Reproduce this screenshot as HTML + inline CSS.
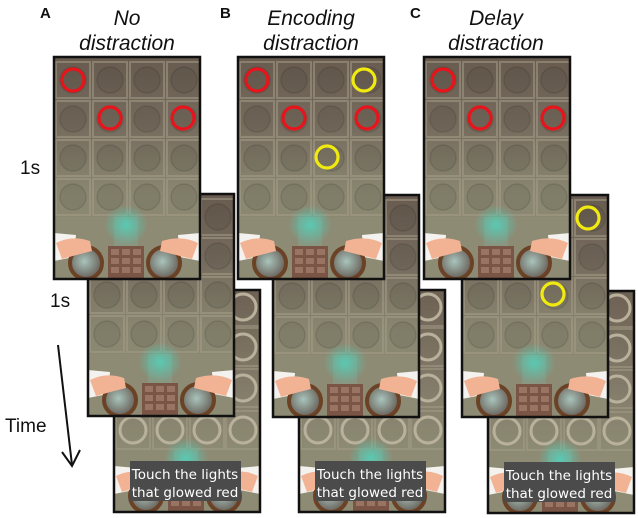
<!DOCTYPE html>
<html><head><meta charset="utf-8"><style>
html,body{margin:0;padding:0;background:#fff;width:638px;height:518px;overflow:hidden}
svg{display:block}
.t{font-family:"Liberation Sans",sans-serif;font-style:italic;font-size:21px;fill:#111;text-anchor:middle}
.L{font-family:"Liberation Sans",sans-serif;font-weight:bold;font-size:15px;fill:#111}
.s{font-family:"Liberation Sans",sans-serif;font-size:19px;fill:#111}
.lb{font-family:"DejaVu Sans","Liberation Sans",sans-serif;font-size:13.5px;fill:#fff;text-anchor:middle}
</style></head><body>
<svg width="638" height="518" viewBox="0 0 638 518" xmlns="http://www.w3.org/2000/svg">
<defs>
<linearGradient id="bg1" x1="0" y1="0" x2="0" y2="1">
<stop offset="0" stop-color="#685b4f"/><stop offset="0.3" stop-color="#756b5d"/><stop offset="0.62" stop-color="#8a8771"/><stop offset="1" stop-color="#8e8c75"/></linearGradient>
<linearGradient id="bg3" x1="0" y1="0" x2="0" y2="1">
<stop offset="0" stop-color="#6d6153"/><stop offset="0.45" stop-color="#847c6a"/><stop offset="0.7" stop-color="#8c8a73"/><stop offset="1" stop-color="#8e8c75"/></linearGradient>
<radialGradient id="glow"><stop offset="0" stop-color="#3fe0c8" stop-opacity="0.7"/><stop offset="1" stop-color="#3fe0c8" stop-opacity="0"/></radialGradient>
<radialGradient id="ball" cx="0.45" cy="0.45"><stop offset="0" stop-color="#a8c4bc"/><stop offset="1" stop-color="#6e6a62"/></radialGradient>
<clipPath id="fc"><rect x="0" y="0" width="146" height="222"/></clipPath>
<g id="cell"><rect x="-17" y="-18" width="34" height="36" fill="none" stroke="#a59d88" stroke-opacity="0.55" stroke-width="2"/><circle r="13" fill="#000" fill-opacity="0.07" stroke="#000" stroke-opacity="0.1" stroke-width="1.5"/></g>
<g id="ring"><rect x="-17" y="-19" width="34" height="38" fill="none" stroke="#a59d88" stroke-opacity="0.5" stroke-width="2"/><circle r="13" fill="none" stroke="#b9b19c" stroke-width="3"/></g>
<g id="bottom">
<rect x="0" y="160" width="146" height="62" fill="#8d8b74"/>
<ellipse cx="72" cy="168" rx="22" ry="20" fill="url(#glow)"/>
<rect x="60" y="160" width="24" height="62" fill="#6fd8c8" opacity="0.15"/>
<path d="M0 176 L22 178 L20 200 L0 204Z" fill="#f4f2ee"/>
<path d="M124 178 L146 176 L146 204 L126 200Z" fill="#f4f2ee"/>
<circle cx="32" cy="206" r="16" fill="url(#ball)" stroke="#6b4226" stroke-width="4"/>
<circle cx="110" cy="206" r="16" fill="url(#ball)" stroke="#6b4226" stroke-width="4"/>
<path d="M2 186 Q18 178 36 184 L38 194 Q22 198 8 202Z" fill="#f2b394"/>
<path d="M144 186 Q128 178 108 184 L106 194 Q122 198 138 202Z" fill="#f2b394"/>
<rect x="54" y="189" width="36" height="33" fill="#7a5444"/>
<g fill="#9a7462"><rect x="57" y="192" width="8" height="6"/><rect x="68" y="192" width="8" height="6"/><rect x="79" y="192" width="8" height="6"/><rect x="57" y="201" width="8" height="6"/><rect x="68" y="201" width="8" height="6"/><rect x="79" y="201" width="8" height="6"/><rect x="57" y="210" width="8" height="6"/><rect x="68" y="210" width="8" height="6"/><rect x="79" y="210" width="8" height="6"/></g>
</g>
<g id="F1">
<rect width="146" height="222" fill="url(#bg1)"/>
<g clip-path="url(#fc)">
<use href="#cell" x="19" y="23"/><use href="#cell" x="56" y="23"/><use href="#cell" x="93" y="23"/><use href="#cell" x="130" y="23"/>
<use href="#cell" x="19" y="62"/><use href="#cell" x="56" y="62"/><use href="#cell" x="93" y="62"/><use href="#cell" x="130" y="62"/>
<use href="#cell" x="19" y="101"/><use href="#cell" x="56" y="101"/><use href="#cell" x="93" y="101"/><use href="#cell" x="130" y="101"/>
<use href="#cell" x="19" y="140"/><use href="#cell" x="56" y="140"/><use href="#cell" x="93" y="140"/><use href="#cell" x="130" y="140"/>
<use href="#bottom"/>
</g>
<rect x="0" y="0" width="146" height="222" fill="none" stroke="#111" stroke-width="2.5"/>
</g>
<g id="F3">
<rect width="146" height="222" fill="url(#bg3)"/>
<g clip-path="url(#fc)">
<use href="#ring" x="19" y="17"/><use href="#ring" x="56" y="17"/><use href="#ring" x="93" y="17"/><use href="#ring" x="129" y="17"/>
<use href="#ring" x="19" y="57"/><use href="#ring" x="56" y="57"/><use href="#ring" x="93" y="57"/><use href="#ring" x="129" y="57"/>
<use href="#ring" x="19" y="98"/><use href="#ring" x="56" y="98"/><use href="#ring" x="93" y="98"/><use href="#ring" x="129" y="98"/>
<use href="#ring" x="19" y="140"/><use href="#ring" x="56" y="140"/><use href="#ring" x="93" y="140"/><use href="#ring" x="129" y="140"/>
<use href="#bottom"/>
<rect x="16" y="171" width="111" height="40" fill="#4b4b4b"/>
</g>
<rect x="0" y="0" width="146" height="222" fill="none" stroke="#111" stroke-width="2.5"/>
</g>
</defs>

<use href="#F3" x="114" y="290"/>
<text class="lb" x="185" y="479">Touch the lights</text><text class="lb" x="185" y="497">that glowed red</text>
<use href="#F1" x="88" y="194"/>
<use href="#F1" x="54" y="57"/>
<g fill="none" stroke="#e8141c" stroke-width="3.2">
<circle cx="73" cy="80" r="11"/><circle cx="110" cy="118" r="11"/><circle cx="183" cy="118" r="11"/></g>

<use href="#F3" x="299" y="290"/>
<text class="lb" x="370" y="479">Touch the lights</text><text class="lb" x="370" y="497">that glowed red</text>
<use href="#F1" x="273" y="195"/>
<use href="#F1" x="238" y="57"/>
<g fill="none" stroke="#e8141c" stroke-width="3.2">
<circle cx="257" cy="80" r="11"/><circle cx="294" cy="118" r="11"/><circle cx="367" cy="118" r="11"/></g>
<g fill="none" stroke="#f0ea10" stroke-width="3.2">
<circle cx="364" cy="80" r="11"/><circle cx="327" cy="157" r="11"/></g>

<use href="#F3" x="488" y="291"/>
<text class="lb" x="559" y="480">Touch the lights</text><text class="lb" x="559" y="498">that glowed red</text>
<use href="#F1" x="462" y="195"/>
<use href="#F1" x="424" y="57"/>
<g fill="none" stroke="#e8141c" stroke-width="3.2">
<circle cx="443" cy="80" r="11"/><circle cx="480" cy="118" r="11"/><circle cx="553" cy="118" r="11"/></g>
<g fill="none" stroke="#f0ea10" stroke-width="3.2">
<circle cx="588" cy="218" r="11"/><circle cx="553" cy="294" r="11"/></g>

<text class="L" x="40" y="18">A</text>
<text class="L" x="220" y="18">B</text>
<text class="L" x="410" y="18">C</text>
<text class="t" x="127" y="25">No</text><text class="t" x="127" y="50">distraction</text>
<text class="t" x="311" y="25">Encoding</text><text class="t" x="311" y="50">distraction</text>
<text class="t" x="496" y="25">Delay</text><text class="t" x="496" y="50">distraction</text>
<text class="s" x="20" y="174">1s</text>
<text class="s" x="50" y="307">1s</text>
<text class="s" x="5" y="432">Time</text>
<line x1="58" y1="345" x2="72" y2="465" stroke="#111" stroke-width="2"/>
<path d="M62 452 L72 466 L80 450" fill="none" stroke="#111" stroke-width="2"/>
</svg>
</body></html>
